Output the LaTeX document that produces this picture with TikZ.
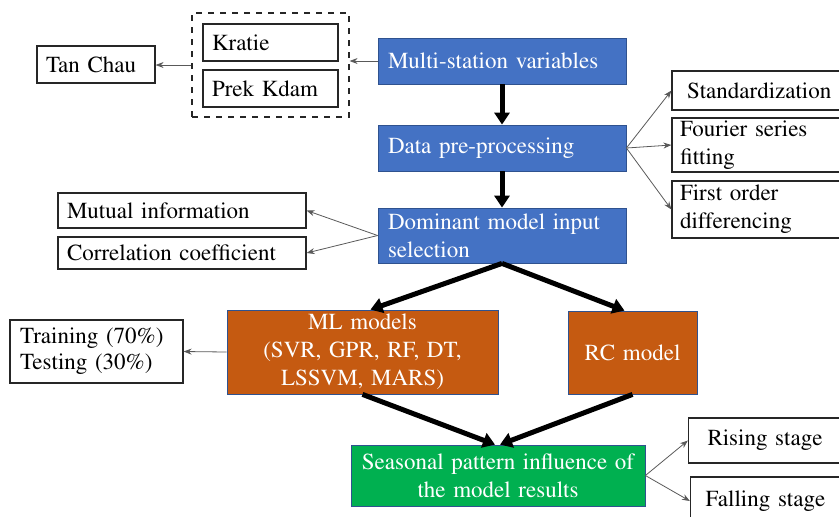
\documentclass[tikz,border=0pt]{standalone}
\usepackage[T1]{fontenc}
\usepackage{mathptmx}
\usetikzlibrary{arrows.meta,calc}
\definecolor{boxblue}{HTML}{4472C4}
\definecolor{boxorange}{HTML}{C55A11}
\definecolor{boxgreen}{HTML}{00B050}
\definecolor{edgeblue}{HTML}{2F528F}
\definecolor{thinline}{HTML}{595959}

\begin{document}
\begin{tikzpicture}[x=0.5pt,y=-0.5pt,font=\fontsize{11.5}{14}\selectfont]
    \tikzstyle{plainbox}=[draw=black!85, line width=0.6pt, fill=white, text=black, align=left, inner ysep=0pt]
    \tikzstyle{dashbox}=[draw=black!85, line width=0.6pt, dashed, inner sep=0pt]
    \tikzstyle{stepbox}=[draw=edgeblue, fill=boxblue, text=white, align=left, inner xsep=5pt, text width=114pt, inner ysep=0pt]
    \tikzstyle{modelbox}=[draw=edgeblue, fill=boxorange, text=white, align=center, inner sep=0pt]
    \tikzstyle{thinarrow}=[draw=thinline, line width=0.4pt, -{Stealth[length=4pt,width=3pt]}]
    \tikzstyle{flow}=[line width=2.5pt, -{Triangle[length=6pt,width=7.5pt]}]

    % Fix the frame
    \clip (0,0) rectangle (839,516);

    % Station boxes
    \node[dashbox, minimum width=78.5pt, minimum height=52pt] (grp) at (270.5,65) {};
    \node[plainbox, text width=58.5pt, inner xsep=4.5pt, minimum height=18.5pt] (kratie) at (270.5,42.5) {Kratie};
    \node[plainbox, text width=58.5pt, inner xsep=4.5pt, minimum height=18.5pt] (prek) at (270.5,88.5) {Prek Kdam};
    \node[plainbox, text width=50pt, inner xsep=4.5pt, minimum height=18.5pt] (tan) at (96,64.5) {Tan Chau};

    % Main steps
    \node[stepbox, minimum height=23pt] (multi) at (502,61) {Multi-station variables};
    \node[stepbox, minimum height=23pt] (prep) at (502,148) {Data pre-processing};
    \node[stepbox, minimum height=27.5pt] (dom) at (502,235.5) {Dominant model input\\selection};

    % Pre-processing options
    \node[plainbox, text width=74pt, inner xsep=7.5pt, minimum height=19.5pt] (std) at (761,90.5) {Standardization};
    \node[plainbox, text width=81pt, inner xsep=4pt, minimum height=27pt] (four) at (761,145) {Fourier series\\fitting};
    \node[plainbox, text width=81pt, inner xsep=4pt, minimum height=28.5pt] (first) at (761,209.5) {First order\\differencing};

    % Input selection methods
    \node[plainbox, text width=115pt, inner xsep=4.5pt, minimum height=17.5pt] (mutual) at (182,210.5) {Mutual information};
    \node[plainbox, text width=115pt, inner xsep=4.5pt, minimum height=16pt] (corr) at (182,253) {Correlation coefficient};

    % Models
    \node[modelbox, text width=135.5pt, minimum height=42pt] (ml) at (362.5,352) {ML models\\(SVR, GPR, RF, DT,\\LSSVM, MARS)};
    \node[modelbox, text width=64.5pt, minimum height=41.5pt] (rc) at (632.5,352.5) {RC model};
    \node[plainbox, text width=76.5pt, inner xsep=5pt, minimum height=31.5pt, font=\fontsize{11.5}{13}\selectfont] (train) at (96.5,351.5) {Training (70\%)\\Testing (30\%)};

    % Seasonal analysis
    \node[draw=edgeblue, fill=boxgreen, text=white, align=center, inner sep=0pt, text width=147pt, minimum height=30.5pt] (seas) at (498,475.5) {Seasonal pattern influence of\\the model results};
    \node[plainbox, text width=66.5pt, inner xsep=9.5pt, minimum height=22.5pt] (rise) at (774,440.5) {Rising stage};
    \node[plainbox, text width=68.5pt, inner xsep=7.5pt, minimum height=24pt] (fall) at (774,501) {Falling stage};

    % Thick flow arrows
    \draw[flow] (multi) -- (prep);
    \draw[flow] (prep) -- (dom);
    \draw[flow] (dom.south) -- ($(ml.north)+(8,0)$);
    \draw[flow] (dom.south) -- ($(rc.north)+(-8,0)$);
    \draw[flow] (ml.south) -- ($(seas.north)+(-3,0)$);
    \draw[flow] (rc.south) -- ($(seas.north)+(2,0)$);

    % Thin side arrows
    \draw[thinarrow] (multi.west) -- (multi.west -| grp.east);
    \draw[thinarrow] (grp.west) -- (grp.west -| tan.east);
    \foreach \t in {std,four,first} {
        \draw[thinarrow] (prep.east) -- (\t.west);
    }
    \foreach \t in {mutual,corr} {
        \draw[thinarrow] (dom.west) -- (\t.east);
    }
    \draw[thinarrow] (ml.west) -- (train.east);
    \foreach \t in {rise,fall} {
        \draw[thinarrow] (seas.east) -- (\t.west);
    }
\end{tikzpicture}
\end{document}
